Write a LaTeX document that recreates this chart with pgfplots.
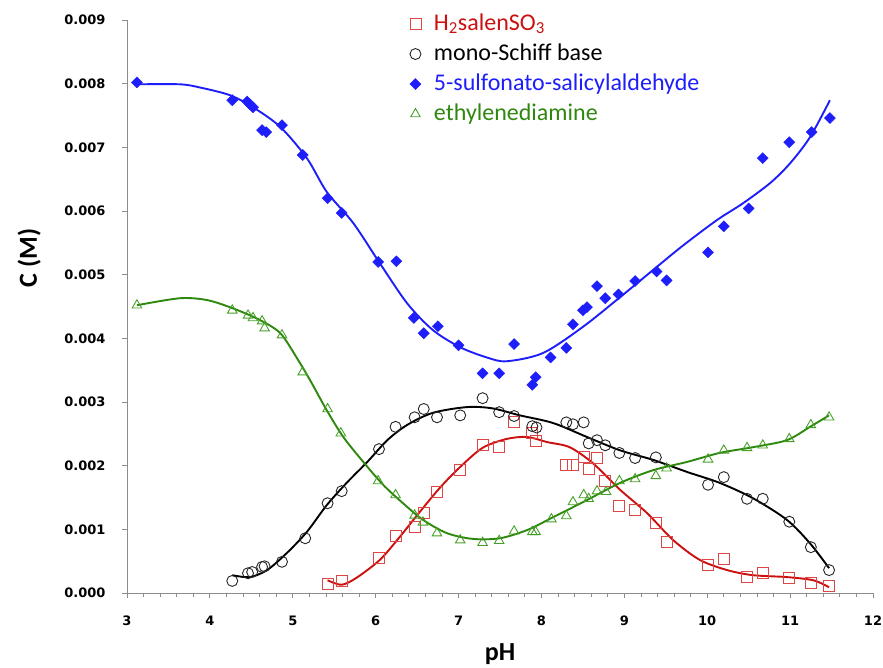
\documentclass[border=0pt]{standalone}
\usepackage{pgfplots}
\pgfplotsset{compat=1.18}
\usepackage{fontspec}
\setmainfont{Carlito}
\newfontfamily\tickfont{DejaVu Sans}
\definecolor{cred}{RGB}{204,16,16}
\definecolor{mred}{RGB}{222,70,70}
\definecolor{cblue}{RGB}{30,30,250}
\definecolor{cgreen}{RGB}{46,136,14}
\definecolor{mgreen}{RGB}{70,160,40}
\definecolor{axgray}{RGB}{140,140,140}

\begin{document}
\begin{tikzpicture}
\path[use as bounding box] (-127pt,-74pt) rectangle (756pt,593pt);
\begin{axis}[
    scale only axis,
    width=746pt, height=573pt,
    xmin=3, xmax=12, ymin=0, ymax=0.009,
    xtick={3,4,...,12},
    minor x tick num=4,
    ytick={0,0.001,0.002,0.003,0.004,0.005,0.006,0.007,0.008,0.009},
    scaled y ticks=false,
    axis lines*=left,
    axis line style={axgray, line width=0.8pt},
    tick align=outside,
    major tick length=5pt, minor tick length=4pt,
    every tick/.style={axgray, line width=0.8pt},
    /pgf/number format/assume math mode=true,
    ticklabel style={font=\tickfont\bfseries\fontsize{13}{13}\selectfont},
    yticklabel style={/pgf/number format/.cd, fixed, fixed zerofill, precision=3, /tikz/.cd, xshift=-13pt},
    xticklabel style={yshift=-14pt},
    xlabel={\bfseries pH},
    ylabel={\bfseries C (M)},
    label style={font=\fontsize{26}{26}\selectfont},
    xlabel style={at={(axis description cs:0.5,-0.107)}, anchor=center},
    ylabel style={at={(axis description cs:-0.131,0.585)}, anchor=center, rotate=0},
    legend style={draw=none, fill=none, at={(axis description cs:0.375,1.023)}, anchor=north west,
      font=\fontsize{24}{24}\selectfont, row sep=0pt,
      nodes={text height=17pt, text depth=5pt, inner ysep=4pt, inner xsep=13pt}},
    legend cell align=left,
  ]
  % measured points
  \addplot[only marks, mark=square, mark size=5.5pt, mark options={draw=mred, line width=0.9pt}] table {
    x y
    5.42 0.00014
    5.59 0.00019
    6.04 0.00055
    6.24 0.00089
    6.47 0.00104
    6.58 0.00126
    6.74 0.00159
    7.02 0.00193
    7.29 0.00232
    7.49 0.00229
    7.67 0.00268
    7.89 0.00251
    7.93 0.00239
    8.30 0.00201
    8.38 0.00201
    8.51 0.00214
    8.57 0.00195
    8.67 0.00212
    8.77 0.00176
    8.94 0.00137
    9.13 0.00130
    9.38 0.00110
    9.51 0.00080
    10.01 0.00044
    10.20 0.00053
    10.48 0.00025
    10.67 0.00031
    10.99 0.00024
    11.25 0.00016
    11.47 0.00011
  };
  \addlegendentry{\textcolor{cred}{H\textsubscript{2}salenSO\textsubscript{3}}}
  \addplot[only marks, mark=o, mark size=5.5pt, mark options={draw=black!85, line width=0.9pt}] table {
    x y
    4.27 0.00019
    4.46 0.00031
    4.51 0.00033
    4.63 0.00041
    4.66 0.00042
    4.87 0.00049
    5.15 0.00086
    5.42 0.00141
    5.59 0.00160
    6.04 0.00226
    6.24 0.00261
    6.47 0.00276
    6.58 0.00289
    6.74 0.00276
    7.02 0.00279
    7.29 0.00306
    7.49 0.00284
    7.67 0.00278
    7.89 0.00262
    7.94 0.00260
    8.30 0.00268
    8.38 0.00265
    8.51 0.00268
    8.57 0.00235
    8.67 0.00240
    8.77 0.00232
    8.94 0.00220
    9.13 0.00212
    9.38 0.00213
    10.01 0.00170
    10.20 0.00182
    10.48 0.00148
    10.67 0.00148
    10.99 0.00112
    11.25 0.00072
    11.47 0.00036
  };
  \addlegendentry{mono-Schiff base}
  \addplot[only marks, mark=square*, mark size=3.9pt, mark options={draw=cblue, fill=cblue, rotate=45}] table {
    x y
    3.12 0.00802
    4.27 0.00774
    4.45 0.00772
    4.48 0.00768
    4.52 0.00763
    4.63 0.00727
    4.68 0.00724
    4.87 0.00735
    5.12 0.00688
    5.42 0.00620
    5.59 0.00597
    6.03 0.00520
    6.25 0.00521
    6.46 0.00432
    6.58 0.00408
    6.75 0.00419
    7.00 0.00389
    7.29 0.00345
    7.49 0.00345
    7.67 0.00391
    7.89 0.00327
    7.93 0.00339
    8.11 0.00370
    8.30 0.00385
    8.38 0.00422
    8.50 0.00444
    8.55 0.00449
    8.67 0.00482
    8.77 0.00463
    8.93 0.00469
    9.13 0.00490
    9.39 0.00505
    9.51 0.00491
    10.01 0.00535
    10.20 0.00576
    10.50 0.00604
    10.67 0.00683
    10.99 0.00708
    11.26 0.00724
    11.48 0.00746
  };
  \addlegendentry{\textcolor{cblue}{5-sulfonato-salicylaldehyde}}
  \addplot[only marks, mark=triangle, mark size=5.5pt, mark options={draw=mgreen, line width=0.9pt}] table {
    x y
    3.12 0.00452
    4.27 0.00444
    4.46 0.00436
    4.52 0.00432
    4.63 0.00427
    4.66 0.00416
    4.87 0.00405
    5.12 0.00347
    5.42 0.00289
    5.58 0.00251
    6.03 0.00176
    6.24 0.00154
    6.47 0.00122
    6.57 0.00111
    6.74 0.00094
    7.02 0.00083
    7.29 0.00079
    7.49 0.00082
    7.67 0.00097
    7.89 0.00096
    7.93 0.00096
    8.12 0.00116
    8.30 0.00121
    8.38 0.00143
    8.51 0.00154
    8.57 0.00148
    8.67 0.00160
    8.78 0.00159
    8.94 0.00176
    9.13 0.00179
    9.38 0.00184
    9.51 0.00196
    10.01 0.00210
    10.20 0.00224
    10.48 0.00228
    10.67 0.00232
    10.99 0.00242
    11.25 0.00264
    11.47 0.00276
  };
  \addlegendentry{\textcolor{cgreen}{ethylenediamine}}
  % fitted curves
  \addplot[forget plot, cred, line width=1.9pt, smooth] table {
    x y
    5.42 0.00020
    5.59 0.00013
    5.77 0.00024
    6.05 0.00052
    6.29 0.00088
    6.53 0.00127
    6.78 0.00166
    7.02 0.00198
    7.29 0.00228
    7.58 0.00242
    7.83 0.00245
    8.07 0.00237
    8.34 0.00229
    8.62 0.00204
    8.95 0.00162
    9.27 0.00126
    9.59 0.00083
    9.91 0.00052
    10.24 0.00036
    10.55 0.00028
    10.96 0.00025
    11.28 0.00020
    11.47 0.00009
  };
  \addplot[forget plot, black, line width=1.9pt, smooth] table {
    x y
    4.27 0.00028
    4.48 0.00025
    4.69 0.00036
    4.93 0.00063
    5.17 0.00096
    5.41 0.00138
    5.65 0.00173
    5.90 0.00206
    6.14 0.00240
    6.38 0.00264
    6.69 0.00283
    7.10 0.00292
    7.41 0.00290
    7.74 0.00279
    8.14 0.00267
    8.55 0.00245
    8.95 0.00224
    9.35 0.00209
    9.76 0.00190
    10.15 0.00173
    10.55 0.00149
    10.96 0.00115
    11.24 0.00078
    11.47 0.00039
  };
  \addplot[forget plot, cblue, line width=1.9pt, smooth] table {
    x y
    3.12 0.00799
    3.64 0.00799
    3.88 0.00794
    4.24 0.00782
    4.52 0.00763
    4.85 0.00732
    5.17 0.00683
    5.41 0.00630
    5.73 0.00581
    6.05 0.00518
    6.38 0.00455
    6.69 0.00413
    7.02 0.00386
    7.34 0.00370
    7.58 0.00364
    8.02 0.00377
    8.50 0.00418
    8.98 0.00468
    9.39 0.00512
    9.71 0.00546
    10.12 0.00586
    10.43 0.00612
    10.76 0.00644
    11.00 0.00675
    11.24 0.00716
    11.48 0.00774
  };
  \addplot[forget plot, cgreen, line width=1.9pt, smooth] table {
    x y
    3.12 0.00452
    3.64 0.00463
    3.97 0.00460
    4.28 0.00447
    4.60 0.00429
    4.85 0.00408
    5.05 0.00369
    5.21 0.00334
    5.41 0.00287
    5.61 0.00245
    5.85 0.00206
    6.09 0.00170
    6.33 0.00141
    6.57 0.00115
    6.86 0.00094
    7.17 0.00085
    7.50 0.00086
    7.83 0.00099
    8.14 0.00119
    8.55 0.00146
    8.95 0.00173
    9.35 0.00193
    9.76 0.00206
    10.15 0.00220
    10.55 0.00229
    10.96 0.00240
    11.24 0.00261
    11.47 0.00279
  };
\end{axis}
\end{tikzpicture}
\end{document}
